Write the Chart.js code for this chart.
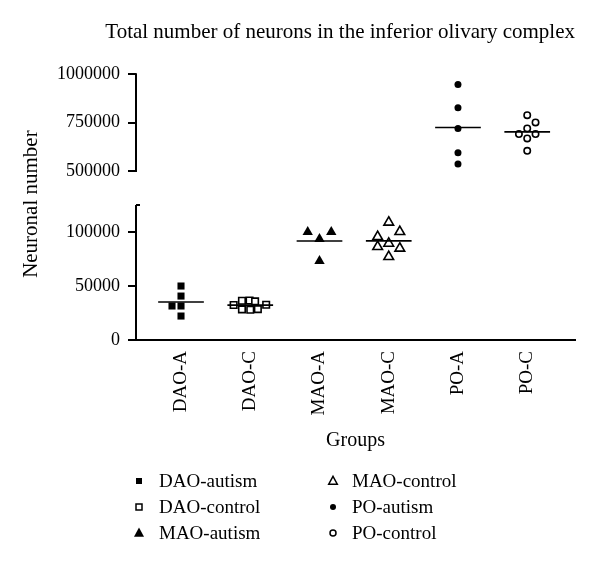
<!DOCTYPE html>
<html>
<head>
<meta charset="utf-8">
<script src="https://cdn.jsdelivr.net/npm/chart.js@4"></script>
<style>
  html, body { margin: 0; padding: 0; background: #fff; }
  #wrap { width: 600px; height: 569px; position: relative; }
</style>
</head>
<body>
<div id="wrap"><canvas id="chart"></canvas></div>
<script>
// Groups on the x axis and the names shown in the legend
const groups = ['DAO-A', 'DAO-C', 'MAO-A', 'MAO-C', 'PO-A', 'PO-C'];
const seriesNames = ['DAO-autism', 'DAO-control', 'MAO-autism', 'MAO-control', 'PO-autism', 'PO-control'];

// Neuron counts per case
const daoAutism = [50000, 40700, 31500, 31500, 22200];
const daoControl = [36400, 36600, 35800, 32400, 32600, 28400, 28000, 28600];
const maoAutism = [100000, 100000, 93500, 73200];
const maoControl = [109000, 100300, 95700, 89500, 86400, 84900, 77100];
const poAutism = [946900, 826300, 720100, 594300, 536100];
const poControl = [788700, 751000, 720100, 690700, 690700, 668600, 604600];

// Sideways spread of the dots inside a group (group units)
const daoAutismJitter = [0, 0, -0.13, 0, 0];
const daoControlJitter = [-0.12, -0.01, 0.07, -0.24, 0.23, -0.12, 0, 0.11];
const maoAutismJitter = [-0.17, 0.17, 0, 0];
const maoControlJitter = [0, 0.16, -0.16, 0, -0.16, 0.16, 0];
const poAutismJitter = [0, 0, 0, 0, 0];
const poControlJitter = [0, 0.12, 0, -0.12, 0.12, 0, 0];

// Ticks of the broken y axis
const lowerTicks = [0, 50000, 100000];
const upperTicks = [500000, 750000, 1000000];
const lowerAxisTop = 125000;

Chart.defaults.font.family = '"Liberation Serif", "Times New Roman", serif';
Chart.defaults.color = '#000';

const groupValues = [daoAutism, daoControl, maoAutism, maoControl, poAutism, poControl];
const groupJitter = [daoAutismJitter, daoControlJitter, maoAutismJitter, maoControlJitter, poAutismJitter, poControlJitter];
const markerStyle = ['rect', 'rect', 'triangle', 'triangle', 'circle', 'circle'];
const markerFilled = [true, false, true, false, true, false];
const markerRadius = [5, 4.6, 6, 5.6, 3.5, 3.2];
const onUpper = [false, false, false, false, true, true];
const meanHalfWidth = 0.33;

const datasets = [];
groupValues.forEach((vals, g) => {
    const axis = onUpper[g] ? 'yUp' : 'yLow';
    const mean = vals.reduce((a, b) => a + b, 0) / vals.length;
    // mean line
    datasets.push({
        type: 'line',
        label: seriesNames[g] + ' mean',
        data: [{ x: g + 1 - meanHalfWidth, y: mean }, { x: g + 1 + meanHalfWidth, y: mean }],
        yAxisID: axis,
        borderColor: '#000',
        borderWidth: 1.6,
        pointRadius: 0,
        fill: false
    });
    // individual cases
    datasets.push({
        type: 'scatter',
        label: seriesNames[g],
        data: vals.map((v, i) => ({ x: g + 1 + groupJitter[g][i], y: v })),
        yAxisID: axis,
        pointStyle: markerStyle[g],
        pointRadius: markerRadius[g],
        pointBackgroundColor: markerFilled[g] ? '#000' : '#fff',
        pointBorderColor: '#000',
        pointBorderWidth: markerFilled[g] ? 0 : 1.6
    });
});

function drawMarker(ctx, style, filled, x, y, r) {
    ctx.save();
    ctx.fillStyle = filled ? '#000' : '#fff';
    ctx.strokeStyle = '#000';
    ctx.lineWidth = 1.5;
    ctx.beginPath();
    if (style === 'rect') {
        ctx.rect(x - r, y - r, 2 * r, 2 * r);
    } else if (style === 'triangle') {
        ctx.moveTo(x, y - r * 1.1);
        ctx.lineTo(x + r, y + r * 0.75);
        ctx.lineTo(x - r, y + r * 0.75);
        ctx.closePath();
    } else {
        ctx.arc(x, y, r, 0, Math.PI * 2);
    }
    ctx.fill();
    if (!filled) ctx.stroke();
    ctx.restore();
}

// axis segments of the broken y axis, the y title and the two-column legend
const extras = {
    id: 'extras',
    afterDraw(chart) {
        const ctx = chart.ctx;
        const left = chart.chartArea.left;
        const up = chart.scales.yUp, low = chart.scales.yLow;
        ctx.save();
        ctx.strokeStyle = '#000';
        ctx.lineWidth = 2;
        ctx.beginPath();
        ctx.moveTo(left, up.getPixelForValue(upperTicks[upperTicks.length - 1]) - 1);
        ctx.lineTo(left, up.getPixelForValue(upperTicks[0]) + 1);
        ctx.moveTo(left, low.getPixelForValue(lowerAxisTop));
        ctx.lineTo(left, low.getPixelForValue(0));
        ctx.moveTo(left, low.getPixelForValue(lowerAxisTop));
        ctx.lineTo(left + 4, low.getPixelForValue(lowerAxisTop));
        ctx.stroke();

        ctx.fillStyle = '#000';
        ctx.font = '21px "Liberation Serif"';
        ctx.textAlign = 'center';
        ctx.textBaseline = 'middle';
        ctx.translate(31, (chart.chartArea.top + chart.chartArea.bottom) / 2 - 3);
        ctx.rotate(-Math.PI / 2);
        ctx.fillText('Neuronal number', 0, 0);
        ctx.restore();

        const colMarker = [139, 333];
        const colText = [159, 352];
        const rowY = [481, 507, 533];
        ctx.save();
        ctx.font = '19px "Liberation Serif"';
        ctx.fillStyle = '#000';
        ctx.textAlign = 'left';
        ctx.textBaseline = 'middle';
        seriesNames.forEach((name, i) => {
            const c = Math.floor(i / 3), r = i % 3;
            const rad = markerStyle[i] === 'triangle' ? (markerFilled[i] ? 5 : 4.3) : 3;
            drawMarker(ctx, markerStyle[i], markerFilled[i], colMarker[c], rowY[r], rad);
            ctx.fillText(name, colText[c], rowY[r] + 1);
        });
        ctx.restore();
    }
};

const yCommon = {
    type: 'linear',
    position: 'left',
    stack: 'y',
    border: { display: false },
    grid: { drawOnChartArea: false, drawTicks: true, tickLength: 8, color: '#000', lineWidth: 2 },
    ticks: { padding: 8, color: '#000', font: { size: 18 }, callback: v => String(v) },
    afterFit: s => { s.width = 126; }
};

new Chart(document.getElementById('chart'), {
    data: { datasets: datasets },
    plugins: [extras],
    options: {
        responsive: true,
        maintainAspectRatio: false,
        animation: false,
        layout: { padding: { left: 10, right: 25, top: 0, bottom: 114 } },
        plugins: {
            legend: { display: false },
            tooltip: { enabled: false },
            title: {
                display: true,
                text: 'Total number of neurons in the inferior olivary complex',
                color: '#000',
                font: { size: 21, weight: 'normal' },
                align: 'end',
                padding: { top: 20, bottom: 29 }
            }
        },
        scales: {
            x: {
                type: 'linear',
                min: 0.35,
                max: 6.69,
                grid: { display: false },
                border: { display: true, color: '#000', width: 2 },
                afterBuildTicks: s => { s.ticks = groups.map((g, i) => ({ value: i + 1 })); },
                ticks: {
                    autoSkip: false,
                    minRotation: 90,
                    maxRotation: 90,
                    padding: 3,
                    color: '#000',
                    font: { size: 19 },
                    callback: v => groups[Math.round(v) - 1]
                },
                title: { display: true, text: 'Groups', color: '#000', font: { size: 20 }, padding: { top: 6, bottom: 2 } },
                afterFit: s => { s.height = 115; }
            },
            yLow: Object.assign({}, yCommon, {
                stackWeight: 152,
                min: 0,
                max: 140700,
                afterBuildTicks: s => { s.ticks = lowerTicks.map(v => ({ value: v })); }
            }),
            yUp: Object.assign({}, yCommon, {
                stackWeight: 114,
                min: 412000,
                max: 1000000,
                afterBuildTicks: s => { s.ticks = upperTicks.map(v => ({ value: v })); }
            })
        }
    }
});
</script>
</body>
</html>
